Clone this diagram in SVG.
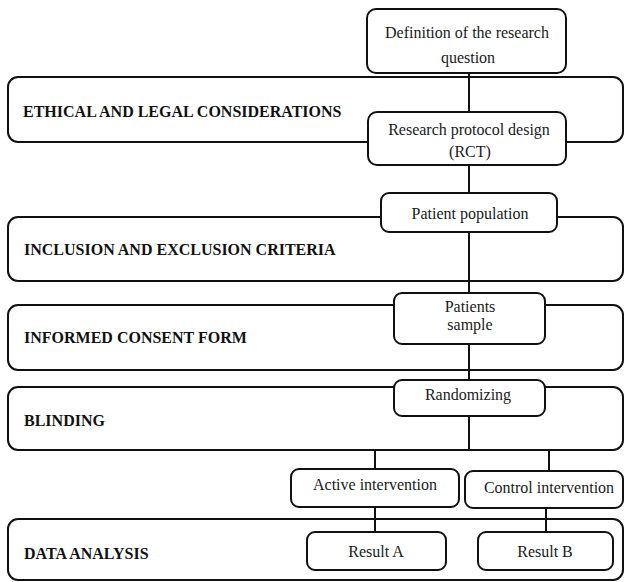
<svg xmlns="http://www.w3.org/2000/svg" width="626" height="582" viewBox="0 0 626 582">
<style>
.band{fill:#fff;stroke:#111;stroke-width:2}
.box{fill:#fff;stroke:#111;stroke-width:2}
.conn{stroke:#111;stroke-width:2;fill:none}
.lbl{font-family:"Liberation Serif","Times New Roman",serif;font-size:16px;fill:#1a1a1a;text-anchor:middle}
.hdr{font-family:"Liberation Serif","Times New Roman",serif;font-size:16px;font-weight:bold;fill:#111}
</style>
<rect width="626" height="582" fill="#fff"/>
<g id="band-ethical"><rect class="band" x="8" y="77" width="615" height="65" rx="10"/><text class="hdr" x="23" y="117">ETHICAL AND LEGAL CONSIDERATIONS</text></g>
<g id="band-inclusion"><rect class="band" x="8" y="217" width="615" height="64" rx="10"/><text class="hdr" x="24" y="255">INCLUSION AND EXCLUSION CRITERIA</text></g>
<g id="band-consent"><rect class="band" x="8" y="305" width="615" height="65" rx="10"/><text class="hdr" x="24" y="343">INFORMED CONSENT FORM</text></g>
<g id="band-blinding"><rect class="band" x="8" y="387" width="615" height="63" rx="10"/><text class="hdr" x="24" y="426">BLINDING</text></g>
<g id="band-data"><rect class="band" x="8" y="519" width="615" height="61" rx="10"/><text class="hdr" x="24" y="559">DATA ANALYSIS</text></g>
<g id="connectors">
<line class="conn" x1="469" y1="73" x2="469" y2="450"/>
<line class="conn" x1="375" y1="450" x2="375" y2="469"/>
<line class="conn" x1="549" y1="450" x2="549" y2="471"/>
<line class="conn" x1="375" y1="507" x2="375" y2="532"/>
<line class="conn" x1="546" y1="508" x2="546" y2="532"/>
</g>
<g id="definition"><rect class="box" x="367" y="9" width="199" height="64" rx="9"/><text class="lbl" x="467" y="38">Definition of the research</text><text class="lbl" x="468" y="63">question</text></g>
<g id="protocol"><rect class="box" x="368" y="112" width="198" height="53" rx="9"/><text class="lbl" x="469" y="135">Research protocol design</text><text class="lbl" x="470" y="157">(RCT)</text></g>
<g id="population"><rect class="box" x="381" y="193" width="176" height="39" rx="8"/><text class="lbl" x="470" y="219">Patient population</text></g>
<g id="sample"><rect class="box" x="394" y="293" width="151" height="51" rx="8"/><text class="lbl" x="470" y="312">Patients</text><text class="lbl" x="470" y="330">sample</text></g>
<g id="randomizing"><rect class="box" x="394" y="380" width="151" height="36" rx="8"/><text class="lbl" x="468" y="400">Randomizing</text></g>
<g id="active"><rect class="box" x="291" y="469" width="168" height="38" rx="8"/><text class="lbl" x="375" y="490">Active intervention</text></g>
<g id="control"><rect class="box" x="465" y="471" width="158" height="37" rx="8"/><text class="lbl" x="549" y="493">Control intervention</text></g>
<g id="resultA"><rect class="box" x="307" y="532" width="139" height="38" rx="8"/><text class="lbl" x="376" y="557">Result A</text></g>
<g id="resultB"><rect class="box" x="478" y="532" width="135" height="38" rx="8"/><text class="lbl" x="545" y="557">Result B</text></g>
</svg>
